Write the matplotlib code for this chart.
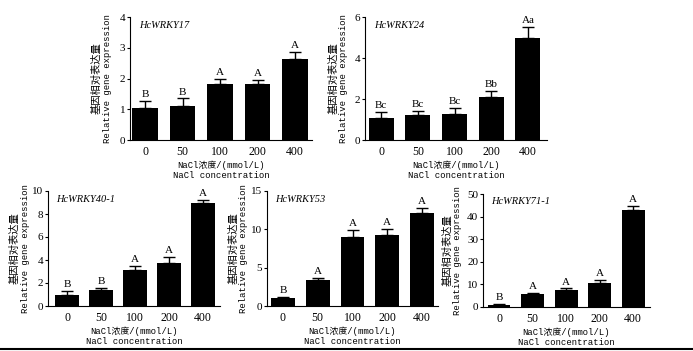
import matplotlib
matplotlib.use("Agg")
import matplotlib.pyplot as plt
import numpy as np

plt.rcParams['font.family'] = ['Liberation Serif', 'Noto Sans CJK SC']

conc = ['0', '50', '100', '200', '400']

genes = ['HcWRKY17', 'HcWRKY24', 'HcWRKY40-1', 'HcWRKY53', 'HcWRKY71-1']

wrky17 = [1.05, 1.10, 1.82, 1.83, 2.62]
wrky17_err = [0.22, 0.25, 0.16, 0.12, 0.25]
wrky17_sig = ['B', 'B', 'A', 'A', 'A']

wrky24 = [1.05, 1.20, 1.25, 2.10, 5.00]
wrky24_err = [0.30, 0.20, 0.30, 0.30, 0.50]
wrky24_sig = ['Bc', 'Bc', 'Bc', 'Bb', 'Aa']

wrky40 = [1.00, 1.40, 3.10, 3.70, 9.00]
wrky40_err = [0.30, 0.20, 0.40, 0.60, 0.20]
wrky40_sig = ['B', 'B', 'A', 'A', 'A']

wrky53 = [1.00, 3.40, 9.00, 9.30, 12.10]
wrky53_err = [0.20, 0.30, 0.90, 0.80, 0.70]
wrky53_sig = ['B', 'A', 'A', 'A', 'A']

wrky71 = [1.0, 5.7, 7.4, 10.6, 42.8]
wrky71_err = [0.3, 0.5, 0.8, 1.3, 2.0]
wrky71_sig = ['B', 'A', 'A', 'A', 'A']

values = [wrky17, wrky24, wrky40, wrky53, wrky71]
errors = [wrky17_err, wrky24_err, wrky40_err, wrky53_err, wrky71_err]
sigs = [wrky17_sig, wrky24_sig, wrky40_sig, wrky53_sig, wrky71_sig]
ymax = [4, 6, 10, 15, 50]
ystep = [1, 2, 2, 5, 10]

W, H = 693, 351
# pixel boxes: left, right, zero line, top
boxes = [(130, 312, 140, 17), (365, 547, 140, 17),
         (48, 220, 306, 191), (267, 438, 306, 191), (483, 650, 307, 194)]
xlims = [(-0.4, 4.45), (-0.44, 4.52), (-0.56, 4.5), (-0.46, 4.46), (-0.48, 4.5)]
# y label offsets left of the axis, px (chinese line, english line)
yl_off = [(33, 22), (31, 22), (33, 23), (33, 23), (35, 26)]

fig = plt.figure(figsize=(W / 100, H / 100), dpi=100)

mono = ['Liberation Mono', 'Noto Sans CJK SC']

for i in range(5):
    l, r, z, t = boxes[i]
    ax = fig.add_axes([l / W, 1 - z / H, (r - l) / W, (z - t) / H])
    x = np.arange(5)
    v = np.array(values[i])
    e = np.array(errors[i])
    ax.bar(x, v, width=0.68, color='black', zorder=2)
    ax.errorbar(x, v, yerr=[np.zeros(5), e], fmt='none', ecolor='black',
                elinewidth=1.0, capsize=4, capthick=1.0, zorder=1)
    for j in range(5):
        ax.text(x[j], v[j] + e[j] + ymax[i] * 0.015, sigs[i][j], ha='center',
                va='bottom', fontsize=8)
    ax.set_xlim(*xlims[i])
    ax.set_ylim(0, ymax[i])
    ax.set_yticks(np.arange(0, ymax[i] + 0.01, ystep[i]))
    ax.set_xticks(x)
    ax.set_xticklabels(conc)
    ax.tick_params(axis='x', length=0, labelsize=8.5, pad=4)
    ax.tick_params(axis='y', length=2.5, width=0.8, labelsize=8, pad=1)
    for s in ['top', 'right']:
        ax.spines[s].set_visible(False)
    for s in ['left', 'bottom']:
        ax.spines[s].set_linewidth(0.8)
    ax.text(0.05, 0.93, genes[i], transform=ax.transAxes, fontsize=7.5,
            style='italic', ha='left', va='center')
    wpx = r - l
    ax.text(-yl_off[i][0] / wpx, 0.5, '基因相对表达量', transform=ax.transAxes,
            rotation=90, ha='center', va='center', fontsize=7.4,
            family='Noto Sans CJK SC')
    ax.text(-yl_off[i][1] / wpx, 0.5, 'Relative gene expression',
            transform=ax.transAxes, rotation=90, ha='center', va='center',
            fontsize=6.4, family='Liberation Mono')
    ax.set_xlabel('NaCl浓度/(mmol/L)\nNaCl concentration', fontsize=6.4,
                  family=mono, linespacing=1.15, labelpad=2)

fig.add_artist(plt.Line2D([0, 1], [1 - 349 / H, 1 - 349 / H], color='black', lw=1.5))

fig.savefig('out.png', dpi=100)
